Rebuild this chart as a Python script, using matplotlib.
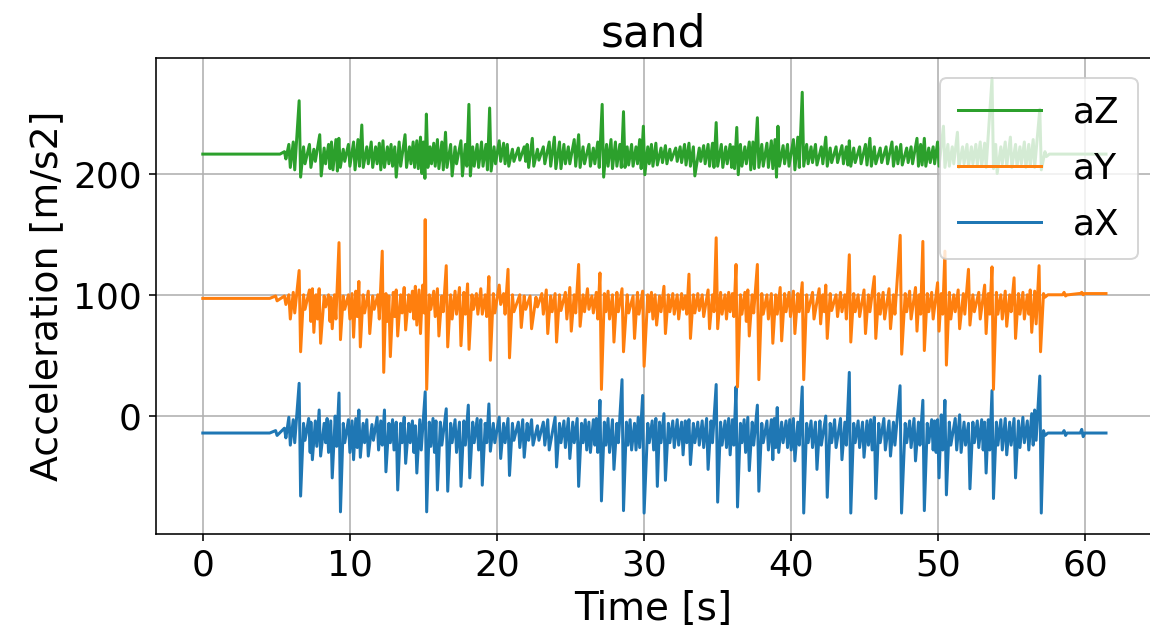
import matplotlib
matplotlib.use("Agg")
import matplotlib.pyplot as plt

# burst events: (time [s], peak, trough)
x_base = (-14, -14)
x_events = [(4.5, -14, -14), (5.0, -12, -16), (5.6, -10, -18), (5.9, -1, -24), (6.2, -3, -22),
            (6.6, 27, -66), (6.9, -6, -20), (7.25, -2, -30), (7.4, -5, -36), (7.7, -4, -25),
            (7.96, 5, -33), (8.3, -6, -22), (8.5, -2, -30), (8.75, -4, -51), (9.05, 0, -25),
            (9.31, 19, -79), (9.6, -6, -22), (9.95, -3, -30), (10.2, -4, -36), (10.45, -2, -26),
            (10.66, 5, -34), (10.95, -6, -22), (11.2, -3, -33), (11.55, -7, -20), (11.9, -1, -28),
            (12.15, -4, -24), (12.4, 5, -46), (12.7, -6, -22), (12.95, -3, -28), (13.2, -5, -61),
            (13.5, -6, -22), (13.74, -1, -39), (14.05, -6, -22), (14.3, -4, -30), (14.5, -8, -47),
            (14.8, -3, -28), (15.17, 20, -79), (15.45, -5, -25), (15.7, -2, -30), (15.9, -4, -61),
            (16.2, -5, -24), (16.6, 6, -62), (16.9, -6, -22), (17.2, -3, -30), (17.5, -5, -58),
            (17.8, -4, -24), (18.1, 9, -51), (18.4, -5, -22), (18.7, -2, -28), (18.95, -3, -57),
            (19.25, -6, -22), (19.5, 10, -29), (19.8, -6, -22), (20.2, -1, -35), (20.5, -6, -22),
            (20.8, -2, -49), (21.1, -6, -20), (21.5, -5, -26), (21.8, -3, -34), (22.1, -6, -20),
            (22.4, -3, -24), (22.8, -8, -20), (23.2, -5, -24), (23.5, -3, -28), (24.0, -1, -42),
            (24.3, -6, -22), (24.6, -4, -26), (24.9, -2, -35), (25.2, -5, -22), (25.5, -2, -58),
            (25.8, -6, -22), (26.05, -3, -28), (26.3, -5, -30), (26.6, -3, -24), (26.8, -2, -30),
            (27.05, 13, -70), (27.35, -5, -24), (27.6, -2, -30), (27.9, -3, -44), (28.2, -6, -22),
            (28.55, 30, -78), (28.85, -5, -24), (29.1, -3, -28), (29.4, -6, -28), (29.65, -1, -26),
            (29.95, 17, -80), (30.3, -6, -22), (30.6, -4, -28), (30.85, -2, -58), (31.1, -5, -22),
            (31.4, 2, -53), (31.7, -6, -22), (32.0, -4, -26), (32.3, -3, -24), (32.6, -5, -32),
            (32.85, -4, -22), (33.1, -3, -40), (33.4, -6, -22), (33.7, -5, -24), (34.0, -4, -26),
            (34.3, -2, -44), (34.6, -4, -22), (34.95, 26, -71), (35.25, -5, -24), (35.55, -4, -26),
            (35.8, -2, -32), (36.05, -3, -24), (36.3, 24, -75), (36.6, -6, -22), (36.85, -3, -30),
            (37.1, -1, -45), (37.4, -5, -24), (37.75, 9, -62), (38.05, -6, -22), (38.4, -4, -28),
            (38.7, -3, -36), (38.9, -2, -26), (39.1, 7, -30), (39.4, -5, -22), (39.7, -4, -26),
            (39.95, -3, -28), (40.2, -2, -37), (40.5, -5, -24), (40.8, 24, -80), (41.1, -6, -22),
            (41.4, -4, -26), (41.7, -5, -44), (42.0, -4, -24), (42.4, 0, -67), (42.7, -6, -22),
            (43.0, -3, -26), (43.4, -2, -36), (43.7, -5, -24), (44.0, 36, -80), (44.3, -6, -22),
            (44.6, -4, -26), (44.9, -5, -34), (45.2, -4, -24), (45.45, -3, -28), (45.7, -1, -68),
            (46.0, -6, -22), (46.35, -2, -28), (46.7, -4, -33), (47.0, -5, -24), (47.45, 25, -80),
            (47.8, -6, -22), (48.1, -4, -26), (48.4, -2, -37), (48.7, -5, -24), (49.0, 13, -78),
            (49.3, -6, -22), (49.6, -3, -28), (49.8, -4, -30), (50.0, -3, -51), (50.25, 1, -28),
            (50.5, 13, -65), (50.8, -5, -24), (51.2, -2, -28), (51.5, 1, -30), (51.8, -5, -24),
            (52.1, -6, -60), (52.4, -5, -22), (52.7, -4, -26), (53.0, -3, -28), (53.2, -5, -47),
            (53.45, -3, -28), (53.7, 21, -68), (54.0, -5, -24), (54.3, -3, -28), (54.6, -2, -32),
            (54.9, -5, -24), (55.2, -2, -51), (55.5, -4, -26), (55.8, -1, -22), (56.1, -4, -28),
            (56.4, 2, -24), (56.6, 5, -20), (56.95, 33, -80), (57.2, -12, -16), (57.5, -14, -14),
            (58.4, -14, -14), (58.6, -12, -16), (58.8, -14, -14), (59.6, -14, -14), (59.8, -11, -17),
            (60.0, -14, -14)]

y_base = (97, 101)
y_events = [(4.5, 97, 97), (5.0, 99, 95), (5.6, 99, 92), (5.9, 100, 80), (6.2, 102, 85),
            (6.6, 120, 53), (6.9, 100, 88), (7.3, 104, 78), (7.5, 105, 69), (7.75, 100, 80),
            (7.96, 105, 60), (8.3, 99, 90), (8.6, 100, 78), (8.75, 98, 72), (9.0, 100, 80),
            (9.31, 143, 63), (9.6, 99, 88), (9.95, 100, 80), (10.2, 101, 65), (10.45, 103, 82),
            (10.66, 111, 57), (10.95, 100, 85), (11.3, 103, 68), (11.6, 99, 88), (11.95, 100, 80),
            (12.25, 136, 36), (12.5, 101, 78), (12.7, 99, 49), (13.0, 102, 82), (13.2, 104, 66),
            (13.5, 100, 85), (13.74, 106, 71), (14.05, 100, 86), (14.3, 103, 80), (14.5, 107, 75),
            (14.75, 104, 68), (15.0, 108, 85), (15.17, 162, 22), (15.45, 100, 88), (15.75, 103, 82),
            (16.0, 105, 66), (16.3, 99, 86), (16.6, 124, 57), (16.9, 100, 80), (17.2, 103, 84),
            (17.5, 106, 58), (17.8, 102, 84), (18.05, 109, 55), (18.35, 100, 88), (18.65, 101, 84),
            (18.95, 105, 84), (19.25, 100, 82), (19.5, 115, 46), (19.8, 101, 85), (20.2, 108, 92),
            (20.5, 101, 84), (20.8, 121, 48), (21.1, 100, 86), (21.6, 100, 73), (21.9, 99, 88),
            (22.3, 99, 72), (22.7, 98, 90), (23.1, 101, 84), (23.4, 104, 68), (23.7, 99, 86),
            (24.0, 101, 61), (24.3, 100, 87), (24.7, 102, 80), (25.0, 106, 70), (25.3, 100, 85),
            (25.6, 125, 74), (25.9, 100, 86), (26.2, 105, 88), (26.5, 99, 85), (26.8, 102, 80),
            (27.05, 118, 22), (27.35, 101, 86), (27.6, 103, 80), (27.9, 100, 61), (28.2, 102, 86),
            (28.55, 105, 53), (28.9, 100, 85), (29.3, 99, 64), (29.6, 102, 84), (29.95, 103, 41),
            (30.3, 100, 86), (30.55, 102, 80), (30.8, 100, 75), (31.1, 99, 86), (31.4, 107, 68),
            (31.7, 100, 86), (32.0, 101, 84), (32.3, 100, 80), (32.6, 101, 88), (32.85, 99, 84),
            (33.1, 117, 64), (33.4, 100, 85), (33.7, 101, 87), (34.0, 100, 82), (34.4, 104, 72),
            (34.7, 100, 86), (34.95, 147, 72), (35.25, 102, 84), (35.55, 100, 80), (35.8, 102, 86),
            (36.05, 101, 82), (36.3, 125, 24), (36.6, 100, 84), (36.9, 102, 78), (37.1, 104, 66),
            (37.4, 100, 85), (37.75, 125, 30), (38.05, 101, 84), (38.4, 100, 80), (38.7, 101, 60),
            (39.0, 100, 84), (39.3, 106, 62), (39.6, 101, 86), (39.9, 102, 82), (40.2, 103, 68),
            (40.5, 101, 86), (40.8, 110, 30), (41.1, 100, 86), (41.5, 102, 80), (41.95, 105, 76),
            (42.2, 100, 86), (42.4, 108, 64), (42.7, 101, 87), (43.1, 100, 82), (43.4, 102, 86),
            (43.7, 100, 80), (44.0, 133, 61), (44.3, 101, 86), (44.6, 100, 82), (45.0, 104, 68),
            (45.3, 100, 86), (45.7, 115, 64), (46.0, 101, 84), (46.3, 102, 80), (46.7, 105, 72),
            (47.0, 100, 84), (47.46, 149, 51), (47.8, 101, 86), (48.1, 103, 80), (48.5, 106, 70),
            (48.75, 100, 84), (49.0, 144, 54), (49.3, 101, 86), (49.6, 102, 80), (50.0, 110, 70),
            (50.25, 101, 84), (50.5, 136, 42), (50.8, 102, 80), (51.1, 100, 86), (51.4, 104, 72),
            (51.75, 101, 84), (52.1, 121, 75), (52.4, 100, 86), (52.8, 102, 80), (53.2, 108, 68),
            (53.45, 101, 84), (53.7, 123, 22), (54.0, 102, 84), (54.3, 100, 80), (54.6, 103, 74),
            (54.9, 100, 86), (55.2, 114, 64), (55.5, 101, 84), (55.8, 102, 80), (56.1, 100, 84),
            (56.3, 104, 69), (56.6, 103, 76), (56.9, 124, 53), (57.2, 101, 98), (57.5, 100, 100),
            (58.4, 100, 100), (58.6, 102, 99), (58.8, 100, 100), (59.6, 101, 101), (59.8, 102, 100),
            (60.0, 101, 101)]

z_base = (216, 216)
z_events = [(5.2, 216, 216), (5.6, 218, 212), (5.9, 224, 205), (6.2, 226, 203), (6.6, 260, 197),
            (6.9, 222, 208), (7.3, 224, 205), (7.6, 220, 210), (8.0, 232, 198), (8.3, 221, 208),
            (8.6, 224, 204), (8.8, 226, 203), (9.1, 228, 202), (9.3, 229, 205), (9.6, 220, 210),
            (9.95, 224, 206), (10.3, 226, 203), (10.6, 228, 206), (10.86, 240, 205), (11.2, 222, 208),
            (11.5, 226, 205), (11.8, 222, 208), (12.05, 225, 203), (12.3, 227, 205), (12.6, 222, 208),
            (12.85, 224, 206), (13.1, 222, 197), (13.4, 226, 206), (13.8, 232, 205), (14.1, 222, 208),
            (14.35, 226, 205), (14.6, 227, 204), (14.85, 230, 200), (15.05, 226, 196), (15.25, 249, 205),
            (15.5, 222, 208), (15.75, 225, 206), (16.0, 228, 204), (16.3, 226, 203), (16.55, 234, 205),
            (16.9, 224, 198), (17.2, 222, 208), (17.6, 227, 198), (17.9, 224, 206), (18.14, 257, 198),
            (18.4, 222, 206), (18.7, 224, 205), (19.0, 226, 206), (19.3, 224, 203), (19.55, 254, 202),
            (19.85, 222, 208), (20.2, 227, 210), (20.5, 225, 208), (20.75, 224, 206), (21.1, 220, 210),
            (21.5, 221, 211), (21.9, 222, 210), (22.1, 224, 205), (22.45, 229, 206), (22.8, 220, 211),
            (23.2, 222, 208), (23.6, 226, 206), (23.95, 230, 204), (24.3, 226, 204), (24.6, 224, 208),
            (24.9, 222, 208), (25.3, 228, 206), (25.6, 232, 205), (25.9, 222, 208), (26.3, 224, 206),
            (26.6, 221, 208), (26.9, 226, 205), (27.2, 257, 197), (27.5, 224, 206), (27.8, 228, 204),
            (28.1, 226, 206), (28.4, 224, 205), (28.65, 251, 205), (28.9, 222, 207), (29.2, 224, 206),
            (29.5, 222, 208), (29.75, 228, 204), (30.0, 239, 199), (30.3, 222, 208), (30.55, 224, 206),
            (30.85, 225, 207), (31.2, 221, 209), (31.5, 223, 208), (31.8, 220, 211), (32.2, 221, 210),
            (32.5, 222, 209), (32.8, 224, 207), (33.1, 225, 206), (33.4, 222, 198), (33.8, 221, 210),
            (34.1, 223, 208), (34.4, 224, 206), (34.7, 225, 205), (34.95, 242, 206), (35.3, 224, 205),
            (35.6, 222, 208), (35.9, 224, 205), (36.1, 222, 204), (36.35, 238, 199), (36.6, 224, 206),
            (36.9, 222, 208), (37.2, 226, 203), (37.45, 226, 204), (37.75, 246, 205), (38.05, 224, 206),
            (38.4, 225, 205), (38.7, 227, 204), (38.95, 228, 197), (39.15, 239, 206), (39.5, 223, 208),
            (39.8, 224, 206), (40.2, 228, 203), (40.5, 230, 205), (40.8, 267, 206), (41.1, 224, 208),
            (41.4, 222, 209), (41.7, 224, 207), (42.1, 222, 208), (42.4, 230, 206), (42.7, 221, 209),
            (43.1, 222, 209), (43.5, 223, 208), (43.8, 222, 207), (44.0, 227, 206), (44.3, 221, 209),
            (44.7, 222, 208), (45.1, 224, 207), (45.4, 229, 206), (45.7, 222, 208), (46.1, 221, 209),
            (46.5, 222, 208), (46.9, 226, 206), (47.2, 222, 208), (47.5, 224, 207), (47.9, 221, 209),
            (48.2, 222, 208), (48.6, 229, 206), (48.85, 224, 207), (49.1, 229, 206), (49.4, 221, 209),
            (49.7, 222, 208), (50.0, 226, 206), (50.4, 239, 205), (50.7, 224, 206), (51.0, 222, 208),
            (51.35, 234, 205), (51.7, 222, 208), (52.0, 224, 206), (52.3, 222, 208), (52.6, 224, 207),
            (52.9, 226, 206), (53.2, 225, 205), (53.7, 278, 204), (53.95, 224, 200), (54.3, 222, 208),
            (54.6, 226, 206), (54.95, 230, 205), (55.3, 224, 206), (55.6, 222, 208), (55.9, 226, 205),
            (56.2, 224, 206), (56.5, 228, 205), (56.95, 253, 203), (57.3, 218, 214), (57.6, 216, 216)]

t_end = 61.4


def trace(base, events):
    # polyline: start level, each burst as peak then trough, end level
    ts = [0.0]
    vs = [base[0]]
    for t, hi, lo in events:
        ts += [t - 0.05, t + 0.05]
        vs += [hi, lo]
    ts.append(t_end)
    vs.append(base[1])
    return ts, vs


fig = plt.figure(figsize=(8.0, 635 / 143.75), dpi=143.75)
ax = fig.add_axes([0.1354, 0.1586, 0.866, 0.7496])

tx, vx = trace(x_base, x_events)
ty, vy = trace(y_base, y_events)
tz, vz = trace(z_base, z_events)
lx, = ax.plot(tx, vx, color='tab:blue', lw=1.5)
ly, = ax.plot(ty, vy, color='tab:orange', lw=1.5)
lz, = ax.plot(tz, vz, color='tab:green', lw=1.5)

ax.set_xlim(-3.2, 64.5)
ax.set_ylim(-97.5, 295)
ax.grid(True)
ax.tick_params(labelsize=18)
ax.set_xlabel('Time [s]', fontsize=19.5)
ax.set_ylabel('Acceleration [m/s2]', fontsize=19)
ax.set_title('sand', fontsize=22)
ax.legend([lz, ly, lx], ['aZ', 'aY', 'aX'], fontsize=18, loc='upper right',
          bbox_to_anchor=(0.986, 0.9586), borderaxespad=0, handlelength=2.3,
          handletextpad=0.9, borderpad=0.5, labelspacing=0.6)

fig.savefig('out.png', dpi=143.75)
